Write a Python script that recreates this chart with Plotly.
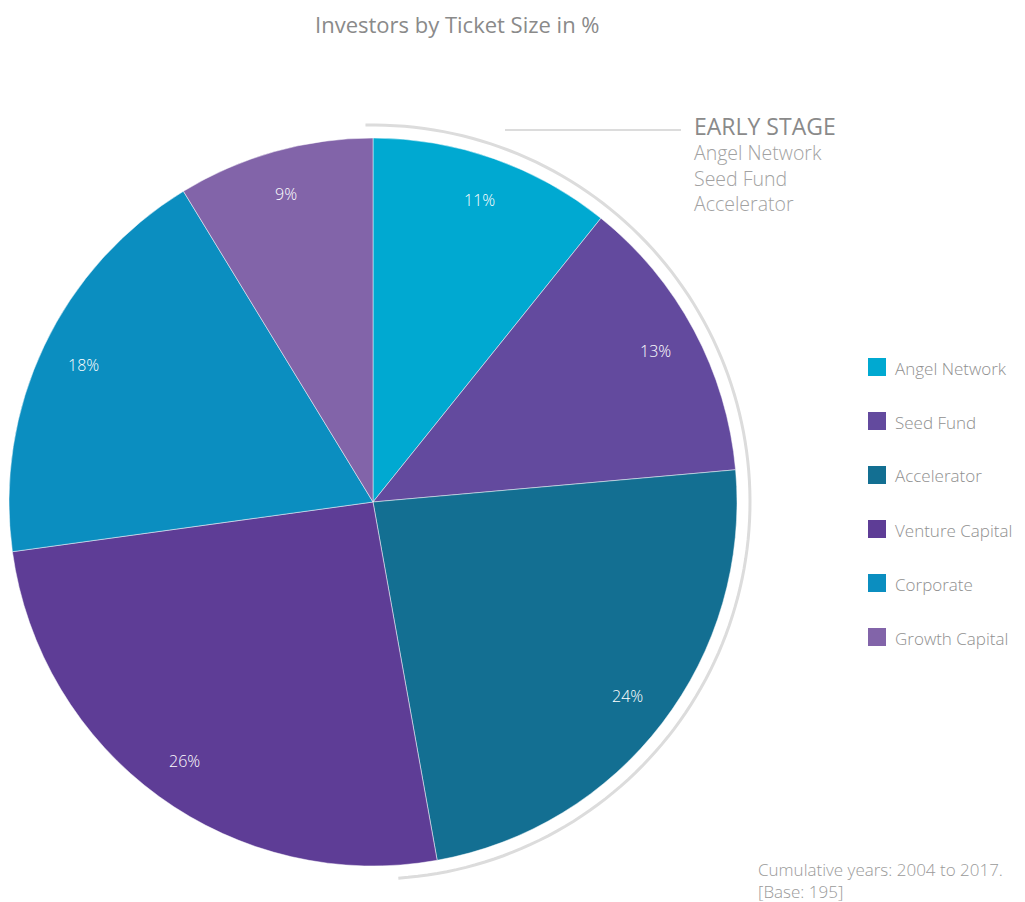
import numpy as np
import plotly.graph_objects as go

labels = ["Angel Network", "Seed Fund", "Accelerator", "Venture Capital", "Corporate", "Growth Capital"]
counts = [21, 25, 46, 50, 36, 17]  # base 195
colors = ["#00a9d1", "#634a9e", "#136f92", "#5e3d96", "#0b8ec0", "#8264a9"]
early_stage = ["Angel Network", "Seed Fund", "Accelerator"]
footer = ["Cumulative years: 2004 to 2017.", "[Base: 195]"]

W, H = 1025, 902
OFF = 8  # page body margin
cx, cy, R = 373, 502, 364
font = "Open Sans"

def px2paper(x, y):
    return (x - OFF) / W, 1 - (y - OFF) / H

def label(x, y, text, size, color, weight=300, xanchor="left"):
    px, py = px2paper(x, y)
    return dict(x=px, y=py, xref="paper", yref="paper", showarrow=False,
                xanchor=xanchor, yanchor="middle", align="left", text=text,
                font=dict(family=font, size=size, color=color, weight=weight))

fig = go.Figure()
x0, y0 = px2paper(cx - R, cy + R)
x1, y1 = px2paper(cx + R, cy - R)
fig.add_trace(go.Pie(
    labels=labels, values=counts, sort=False, direction="clockwise", rotation=0,
    marker=dict(colors=colors, line=dict(color="rgba(255,255,255,0.6)", width=0.8)),
    textinfo="none", hoverinfo="label+percent", showlegend=False,
    domain=dict(x=[x0, x1], y=[y0, y1]),
))

annotations = []
shapes = []

# percentage labels near the rim
tot = sum(counts)
cum = np.cumsum([0] + counts) / tot
for i, c in enumerate(counts):
    mid = (cum[i] + cum[i + 1]) / 2 * 2 * np.pi
    r = 0.88 * R
    annotations.append(label(cx + r * np.sin(mid), cy - r * np.cos(mid),
                             f"{round(c / tot * 100)}%", 16, "white", xanchor="center"))

# arc around early stage slices
n_early = len(early_stage)
a_start = cum[0] * 2 * np.pi - 0.02
a_end = cum[n_early] * 2 * np.pi + 0.11
ar = 377
th = np.linspace(a_start, a_end, 120)
pts = [px2paper(cx + ar * np.sin(t), cy - ar * np.cos(t)) for t in th]
path = "M " + " L ".join(f"{p[0]:.5f},{p[1]:.5f}" for p in pts)
shapes.append(dict(type="path", path=path, xref="paper", yref="paper",
                   line=dict(color="#dcdcdc", width=3)))

# connector line + early stage text block
lx0, ly0 = px2paper(505, 130)
lx1, _ = px2paper(681, 130)
shapes.append(dict(type="line", xref="paper", yref="paper", x0=lx0, x1=lx1, y0=ly0, y1=ly0,
                   line=dict(color="#dcdcdc", width=2)))
block = ('<span style="font-size:23px;color:#8a8a8a;font-weight:400">EARLY STAGE</span><br>'
         + "<br>".join(early_stage))
annotations.append(label(692, 163, block, 19.5, "#a2a2a2"))

# manual legend
for k, (name, col) in enumerate(zip(labels, colors)):
    yc = 367 + 54 * k
    sx0, sy0 = px2paper(868, yc + 9)
    sx1, sy1 = px2paper(886, yc - 9)
    shapes.append(dict(type="rect", xref="paper", yref="paper", x0=sx0, x1=sx1, y0=sy0, y1=sy1,
                       fillcolor=col, line=dict(width=0)))
    annotations.append(label(893, yc + 1, name, 17, "#909090"))

# footer
annotations.append(label(756, 880, "<br>".join(footer), 17, "#9a9a9a"))

annotations.append(label(457, 24, "Investors by Ticket Size in %", 22, "#8a8a8a",
                         weight=500, xanchor="center"))

fig.update_layout(
    width=W, height=H, margin=dict(l=0, r=0, t=0, b=0),
    paper_bgcolor="white", plot_bgcolor="white",
    annotations=annotations, shapes=shapes,
)
fig.write_html("out.html")
